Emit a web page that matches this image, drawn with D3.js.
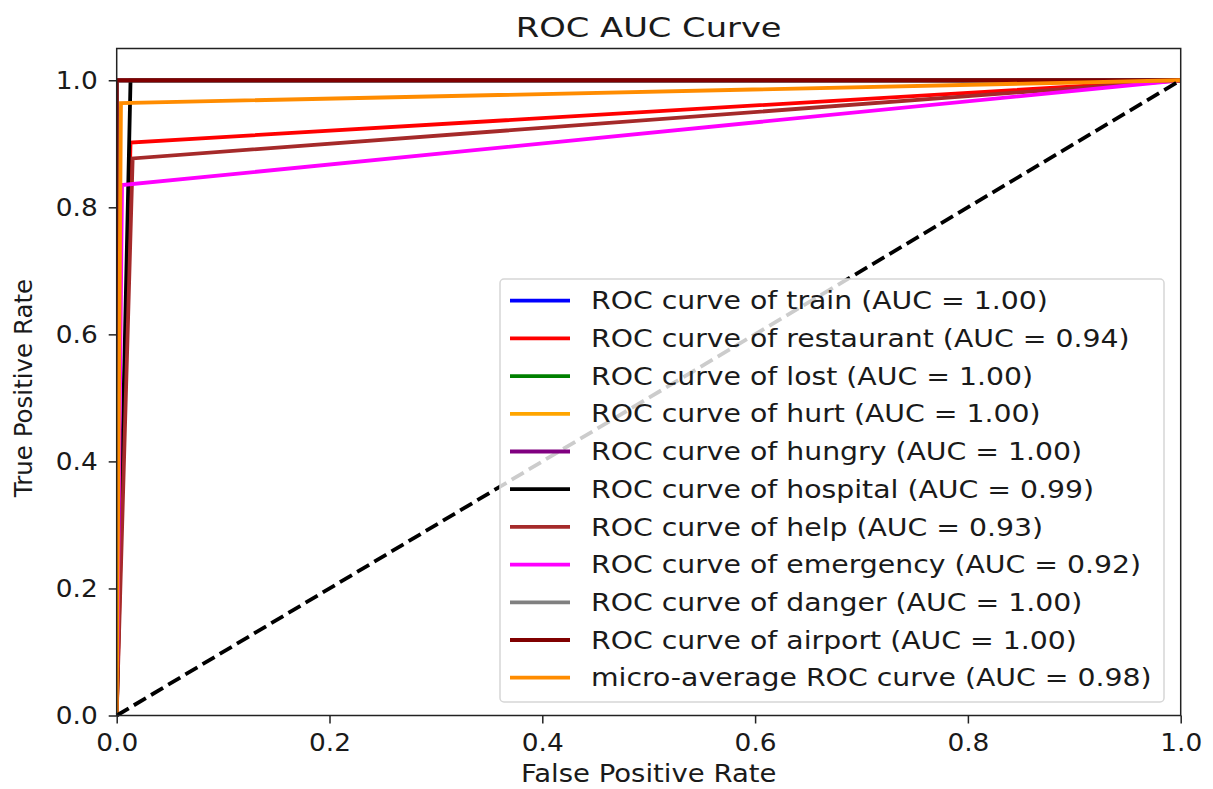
<!DOCTYPE html>
<html>
<head>
<meta charset="utf-8">
<script src="https://cdn.jsdelivr.net/npm/d3@7/dist/d3.min.js"></script>
<style>
    body { margin: 0; background: #fff; }
    svg text { font-family: "DejaVu Sans", sans-serif; fill: #1a1a1a; }
</style>
</head>
<body>
<svg width="1213" height="789"></svg>
<script>
// class curves, drawn in this order
let classNames = ["train", "restaurant", "lost", "hurt", "hungry", "hospital", "help", "emergency", "danger", "airport"];
let aucValues = [1.00, 0.94, 1.00, 1.00, 1.00, 0.99, 0.93, 0.92, 1.00, 1.00];
let colors = ["blue", "red", "green", "orange", "purple", "black", "brown", "magenta", "gray", "maroon"];
let fprPoints = [
    [0, 0, 1],
    [0, 0.013, 1],
    [0, 0, 1],
    [0, 0, 1],
    [0, 0, 1],
    [0, 0.013, 1],
    [0, 0.015, 1],
    [0, 0.005, 1],
    [0, 0, 1],
    [0, 0, 1]
];
let tprPoints = [
    [0, 1, 1],
    [0, 0.902, 1],
    [0, 1, 1],
    [0, 1, 1],
    [0, 1, 1],
    [0, 1, 1],
    [0, 0.877, 1],
    [0, 0.835, 1],
    [0, 1, 1],
    [0, 1, 1]
];

// micro-average curve
let microFpr = [0, 0.004, 1];
let microTpr = [0, 0.964, 1];
let microAuc = 0.98;

let xTicks = [0, 0.2, 0.4, 0.6, 0.8, 1.0];
let yTicks = [0, 0.2, 0.4, 0.6, 0.8, 1.0];

const svg = d3.select("svg");
const plotLeft = 116.7, plotRight = 1180.7, plotTop = 48.5, plotBottom = 715.5;

const x = d3.scaleLinear().domain([0, 1]).range([plotLeft, plotRight]);
const y = d3.scaleLinear().domain([0, 1.05]).range([plotBottom, plotTop]);

// the picture is a little wider than tall, so horizontal text is stretched
function stretch(sel, sx) {
    sel.attr("transform", function () {
        const t = d3.select(this);
        const tx = +t.attr("data-x") || 0, ty = +t.attr("data-y") || 0;
        return `translate(${tx},${ty}) scale(${sx},1)`;
    });
}

const line = d3.line().x(d => x(d[0])).y(d => y(d[1]));

const curves = classNames.map((name, i) => ({
    label: `ROC curve of ${name} (AUC = ${aucValues[i].toFixed(2)})`,
    color: colors[i],
    points: d3.zip(fprPoints[i], tprPoints[i])
}));
curves.push({
    label: `micro-average ROC curve (AUC = ${microAuc.toFixed(2)})`,
    color: "darkorange",
    points: d3.zip(microFpr, microTpr)
});

const plot = svg.append("g");
plot.append("defs").append("clipPath").attr("id", "clip")
    .append("rect").attr("x", plotLeft).attr("y", plotTop)
    .attr("width", plotRight - plotLeft).attr("height", plotBottom - plotTop);

plot.append("g").attr("clip-path", "url(#clip)")
    .selectAll("path")
    .data(curves)
    .join("path")
    .attr("d", d => line(d.points))
    .attr("fill", "none")
    .attr("stroke", d => d.color)
    .attr("stroke-width", 3.8);

// chance line
plot.append("path")
    .attr("d", line([[0, 0], [1, 1]]))
    .attr("fill", "none")
    .attr("stroke", "black")
    .attr("stroke-width", 3.8)
    .attr("stroke-dasharray", "14,6");

// axes
const xAxis = svg.append("g")
    .attr("transform", `translate(0,${plotBottom})`)
    .call(d3.axisBottom(x).tickValues(xTicks).tickFormat(d3.format(".1f")).tickSize(8).tickSizeOuter(0));
const yAxis = svg.append("g")
    .attr("transform", `translate(${plotLeft},0)`)
    .call(d3.axisLeft(y).tickValues(yTicks).tickFormat(d3.format(".1f")).tickSize(8).tickSizeOuter(0));

[xAxis, yAxis].forEach(a => {
    a.select(".domain").remove();
    a.selectAll(".tick line").attr("stroke", "#222").attr("stroke-width", 1.5);
    a.selectAll("text").attr("font-size", 24).attr("fill", "#1a1a1a");
});
xAxis.selectAll("text")
    .attr("y", null).attr("dy", null)
    .attr("data-y", 35)
    .call(stretch, 1.1);
yAxis.selectAll("text")
    .attr("x", null).attr("dy", "0.35em")
    .attr("data-x", -19)
    .call(stretch, 1.1);

svg.append("rect")
    .attr("x", plotLeft).attr("y", plotTop)
    .attr("width", plotRight - plotLeft).attr("height", plotBottom - plotTop)
    .attr("fill", "none")
    .attr("stroke", "#222")
    .attr("stroke-width", 1.5);

// legend
const legendX = 500, legendY = 279, rowH = 37.7;
const legend = svg.append("g");
legend.append("rect")
    .attr("x", legendX).attr("y", legendY)
    .attr("width", 664).attr("height", 423)
    .attr("rx", 4)
    .attr("fill", "white").attr("fill-opacity", 0.8)
    .attr("stroke", "#d6d6d6").attr("stroke-width", 1.5);

const rows = legend.selectAll("g.row")
    .data(curves)
    .join("g")
    .attr("class", "row")
    .attr("transform", (d, i) => `translate(0,${legendY + 21.7 + i * rowH})`);
rows.append("line")
    .attr("x1", 510).attr("x2", 570)
    .attr("stroke", d => d.color)
    .attr("stroke-width", 3.8);
rows.append("text")
    .attr("data-x", 591)
    .attr("dy", "0.36em")
    .attr("font-size", 24)
    .text(d => d.label)
    .call(stretch, 1.18);

// titles
svg.append("text")
    .attr("data-x", (plotLeft + plotRight) / 2).attr("data-y", 37)
    .attr("text-anchor", "middle")
    .attr("font-size", 27)
    .text("ROC AUC Curve")
    .call(stretch, 1.25);

svg.append("text")
    .attr("data-x", (plotLeft + plotRight) / 2).attr("data-y", 782)
    .attr("text-anchor", "middle")
    .attr("font-size", 25)
    .text("False Positive Rate")
    .call(stretch, 1.1);

svg.append("text")
    .attr("transform", `translate(32,388) rotate(-90)`)
    .attr("text-anchor", "middle")
    .attr("font-size", 24.5)
    .text("True Positive Rate");
</script>
</body>
</html>
